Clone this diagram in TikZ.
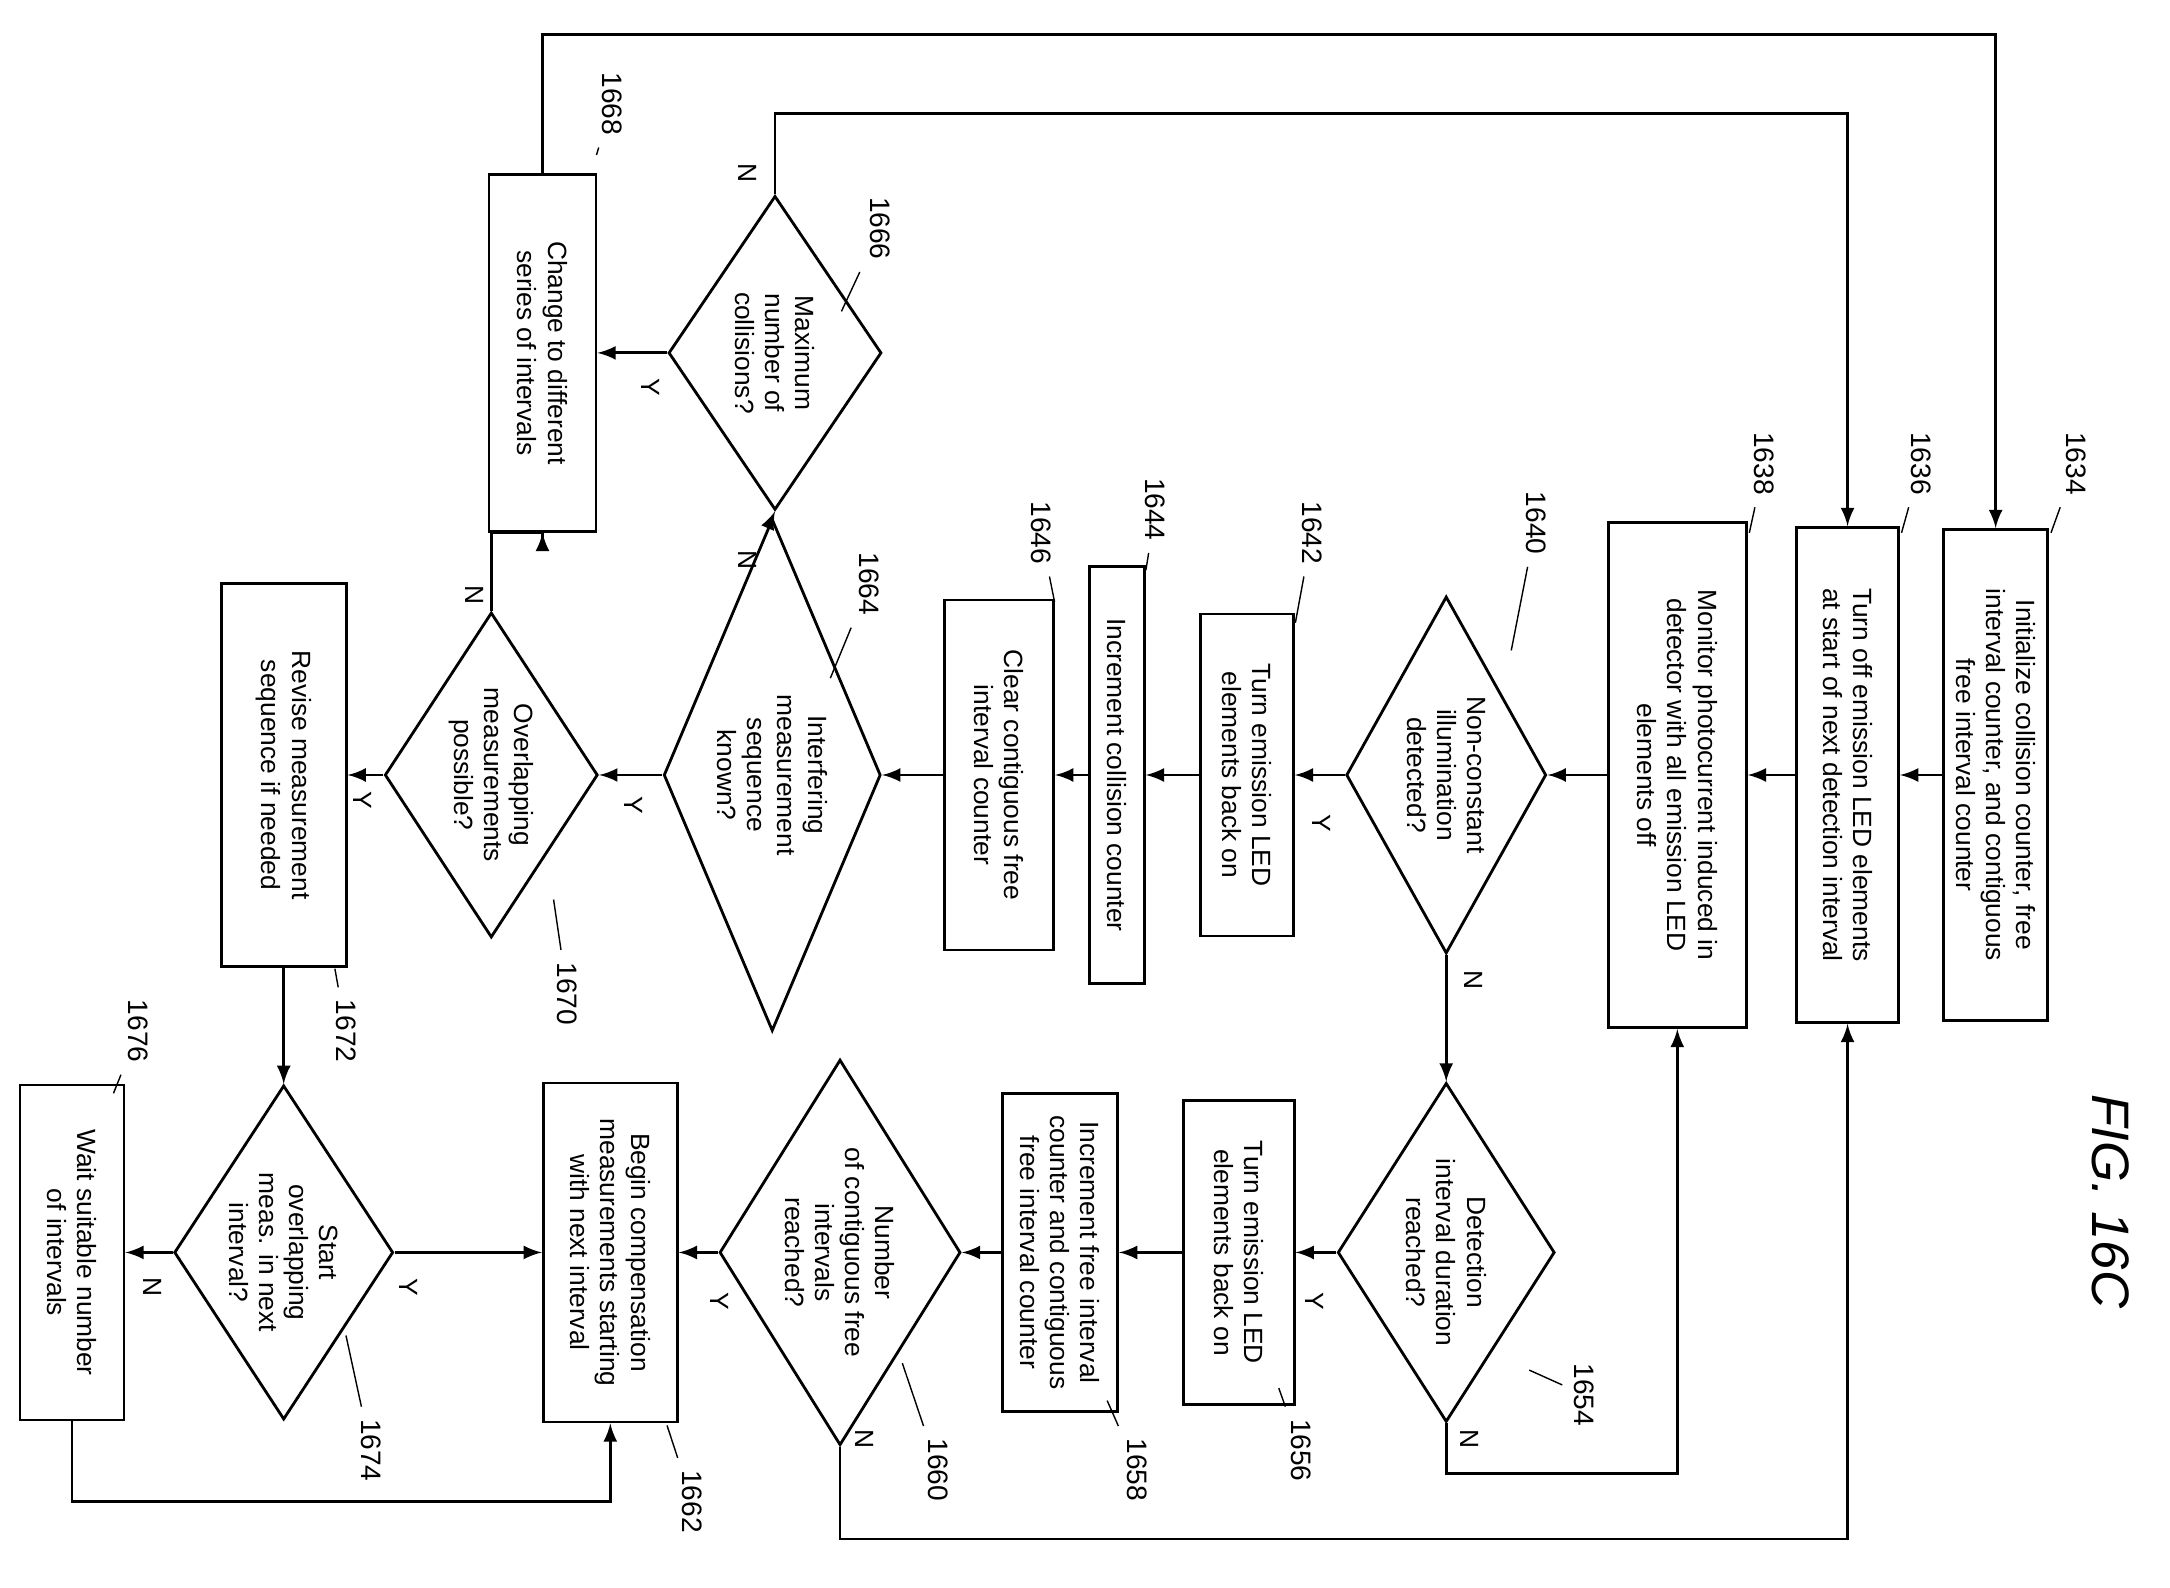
\documentclass[tikz,border=0pt]{standalone}
\usepackage{fontspec}
\setmainfont{Liberation Sans}
\usetikzlibrary{shapes.geometric,arrows}
\tikzset{>=latex}
\tikzset{
  box/.style={draw, thick, rotate=-90, align=center, inner sep=1pt, font=\fontsize{7.5}{8.6}\selectfont},
  dia/.style={draw, thick, diamond, rotate=-90, align=center, inner sep=0pt, aspect=1.6, font=\fontsize{7.5}{8.6}\selectfont},
  yn/.style={rotate=-90, font=\fontsize{7.5}{9}\selectfont},
  num/.style={rotate=-90, font=\fontsize{8}{9}\selectfont},
  flow/.style={->, thick},
  lead/.style={thin}
}
\begin{document}
\begin{tikzpicture}[x=0.01384cm, y=-0.01384cm]
\useasboundingbox (0,0) rectangle (1568,1147);

% left column
\node[box, minimum width=4.91cm, minimum height=1.04cm] (b1634) at (1442,560) {Initialize collision counter, free\\interval counter, and contiguous\\free interval counter};
\node[box, minimum width=4.95cm, minimum height=1.02cm] (b1636) at (1335,560) {Turn off emission LED elements\\at start of next detection interval};
\node[box, minimum width=5.05cm, minimum height=1.38cm] (b1638) at (1212,560) {Monitor photocurrent induced in\\detector with all emission LED\\elements off};
\node[dia, minimum width=3.57cm, minimum height=2.0cm] (d1640) at (1045,560) {Non-constant\\illumination\\detected?};
\node[box, minimum width=3.22cm, minimum height=0.93cm] (b1642) at (901,560) {Turn emission LED\\elements back on};
\node[box, minimum width=4.17cm, minimum height=0.55cm] (b1644) at (807,560) {Increment collision counter};
\node[box, minimum width=3.5cm, minimum height=1.09cm] (b1646) at (722,560) {Clear contiguous free\\interval counter};
\node[dia, minimum width=5.12cm, minimum height=2.17cm] (d1664) at (558,560) {Interfering\\measurement\\sequence\\known?};
\node[dia, minimum width=3.25cm, minimum height=2.13cm] (d1670) at (355,560) {Overlapping\\measurements\\possible?};
\node[box, minimum width=3.83cm, minimum height=1.25cm] (b1672) at (205,560) {Revise measurement\\sequence if needed};
\node[dia, minimum width=3.14cm, minimum height=2.13cm] (d1666) at (560,255) {Maximum\\number of\\collisions?};
\node[box, minimum width=3.57cm, minimum height=1.07cm] (b1668) at (392,255) {Change to different\\series of intervals};

% right column
\node[dia, minimum width=3.39cm, minimum height=2.17cm] (d1654) at (1045,905) {Detection\\interval duration\\reached?};
\node[box, minimum width=3.04cm, minimum height=1.11cm] (b1656) at (895,905) {Turn emission LED\\elements back on};
\node[box, minimum width=3.18cm, minimum height=1.15cm] (b1658) at (766,905) {Increment free interval\\counter and contiguous\\free interval counter};
\node[dia, minimum width=3.18cm, minimum height=2.15cm] (d1660) at (607,905) {Number\\of contiguous free\\intervals\\reached?};
\node[box, minimum width=3.39cm, minimum height=1.34cm] (b1662) at (441,905) {Begin compensation\\measurements starting\\with next interval};
\node[dia, minimum width=2.98cm, minimum height=2.19cm] (d1674) at (205,905) {Start\\overlapping\\meas. in next\\interval?};
\node[box, minimum width=3.35cm, minimum height=1.04cm] (b1676) at (52,905) {Wait suitable number\\of intervals};

\node[rotate=-90, font=\itshape\fontsize{15}{16}\selectfont] (fig) at (1525,868) {FIG. 16C};

% corners
\coordinate (k1) at (355,385);
\coordinate (k2) at (560,82);
\coordinate (k3) at (392,25);
\coordinate (k4) at (1045,1065);
\coordinate (k5) at (607,1112);
\coordinate (k6) at (52,1085);

% connectors
\draw[flow] (b1634.south) -- (b1636.north);
\draw[flow] (b1636.south) -- (b1638.north);
\draw[flow] (b1638.south) -- (d1640.north);
\draw[flow] (d1640.south) -- (b1642.north);
\draw[flow] (b1642.south) -- (b1644.north);
\draw[flow] (b1644.south) -- (b1646.north);
\draw[flow] (b1646.south) -- (d1664.north);
\draw[flow] (d1664.south) -- (d1670.north);
\draw[flow] (d1670.south) -- (b1672.north);
\draw[flow] (d1670.west) -- (k1) -| (b1668.east);
\draw[flow] (d1664.west) -- (d1666.east);
\draw[flow] (d1666.south) -- (d1666.south -| b1668.north);
\draw[flow] (d1666.west) -- (k2) -| (b1636.west);
\draw[flow] (b1668.west) -- (k3) -| (b1634.west);
\draw[flow] (d1640.east) -- (d1654.west);
\draw[flow] (d1654.south) -- (b1656.north);
\draw[flow] (d1654.east) -- (k4) -| (b1638.east);
\draw[flow] (b1656.south) -- (b1658.north);
\draw[flow] (b1658.south) -- (d1660.north);
\draw[flow] (d1660.south) -- (b1662.north);
\draw[flow] (d1660.east) -- (k5) -| (b1636.east);
\draw[flow] (b1672.east) -- (d1674.west);
\draw[flow] (d1674.north) -- (b1662.south);
\draw[flow] (d1674.south) -- (b1676.north);
\draw[flow] (b1676.east) -- (k6) -| (b1662.east);

% Y / N
\node[yn] (y1640) at (955,595) {Y};
\node[yn] (n1640) at (1065,708) {N};
\node[yn] (y1664) at (458,582) {Y};
\node[yn] (n1664) at (540,405) {N};
\node[yn] (y1670) at (262,578) {Y};
\node[yn] (n1670) at (343,430) {N};
\node[yn] (y1666) at (470,280) {Y};
\node[yn] (n1666) at (540,125) {N};
\node[yn] (y1654) at (950,940) {Y};
\node[yn] (n1654) at (1062,1040) {N};
\node[yn] (y1660) at (520,940) {Y};
\node[yn] (n1660) at (625,1040) {N};
\node[yn] (y1674) at (295,930) {Y};
\node[yn] (n1674) at (110,930) {N};

% reference numbers
\foreach \n/\tx/\ty/\lx/\ly in {1634/1500/335/1482/385, 1636/1388/335/1374/385,
  1638/1275/335/1264/385, 1640/1110/378/1092/470, 1642/948/385/936/450,
  1644/835/368/828/412, 1646/752/385/762/435, 1664/628/422/600/490,
  1666/636/165/608/225, 1668/442/75/431/112, 1670/410/718/400/650,
  1672/250/745/242/700, 1674/268/1048/250/965, 1676/100/745/82/790,
  1654/1145/1008/1105/990, 1656/940/1048/924/1003, 1658/822/1062/800/1012,
  1660/678/1062/652/985, 1662/500/1085/482/1030}
{
  \node[num] (r\n) at (\tx,\ty) {\n};
  \draw[lead] (r\n) -- (\lx,\ly);
}
\end{tikzpicture}
\end{document}
